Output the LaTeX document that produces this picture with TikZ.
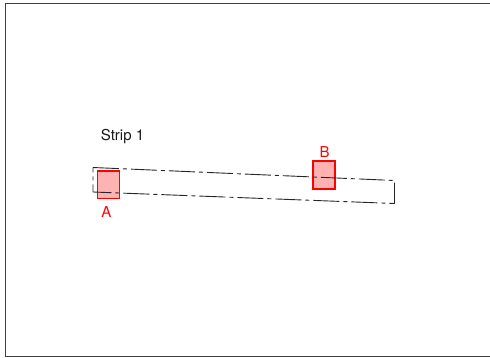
\documentclass[tikz,border=0pt]{standalone}
\usepackage{fontspec}
\setmainfont{TeX Gyre Heros}
\begin{document}
\begin{tikzpicture}[x=1pt,y=-1pt,
  frameline/.style={draw=black!75,line width=1pt},
  striplinestyle/.style={draw=black!85,line width=0.9pt,dash pattern=on 26pt off 4pt on 4pt off 4pt},
  sitebox/.style={draw=red,line width=1.6pt,fill=red!30,minimum width=22pt,minimum height=27.5pt,inner sep=0pt},
  redlabel/.style={text=red,font=\fontsize{15}{17}\selectfont,inner sep=0pt},
  blacklabel/.style={text=black!90,font=\fontsize{15}{17}\selectfont,inner sep=0pt}]
\useasboundingbox (0,0) rectangle (490,358);
% frame
\coordinate (f1) at (490,3.5);
\coordinate (f2) at (5.5,3.5);
\coordinate (f3) at (5.5,356);
\coordinate (f4) at (490,356);
\draw[frameline] (f1) -- (f2) -- (f3) -- (f4);
% boxes
\node[sitebox] (boxA) at (108.5,184.7) {};
\node[sitebox] (boxB) at (324,175) {};
% strip
\coordinate (s1) at (93,167.5);
\coordinate (s2) at (394.5,180.5);
\coordinate (s3) at (394.5,203.5);
\coordinate (s4) at (93,192);
\draw[striplinestyle] (s1) -- (s2) -- (s3) -- (s4) -- cycle;
\node[redlabel] (labA) at (106.5,212) {A};
\node[redlabel] (labB) at (324.5,152) {B};
\node[blacklabel] (strip) at (122.5,137) {Strip 1};
\end{tikzpicture}
\end{document}
